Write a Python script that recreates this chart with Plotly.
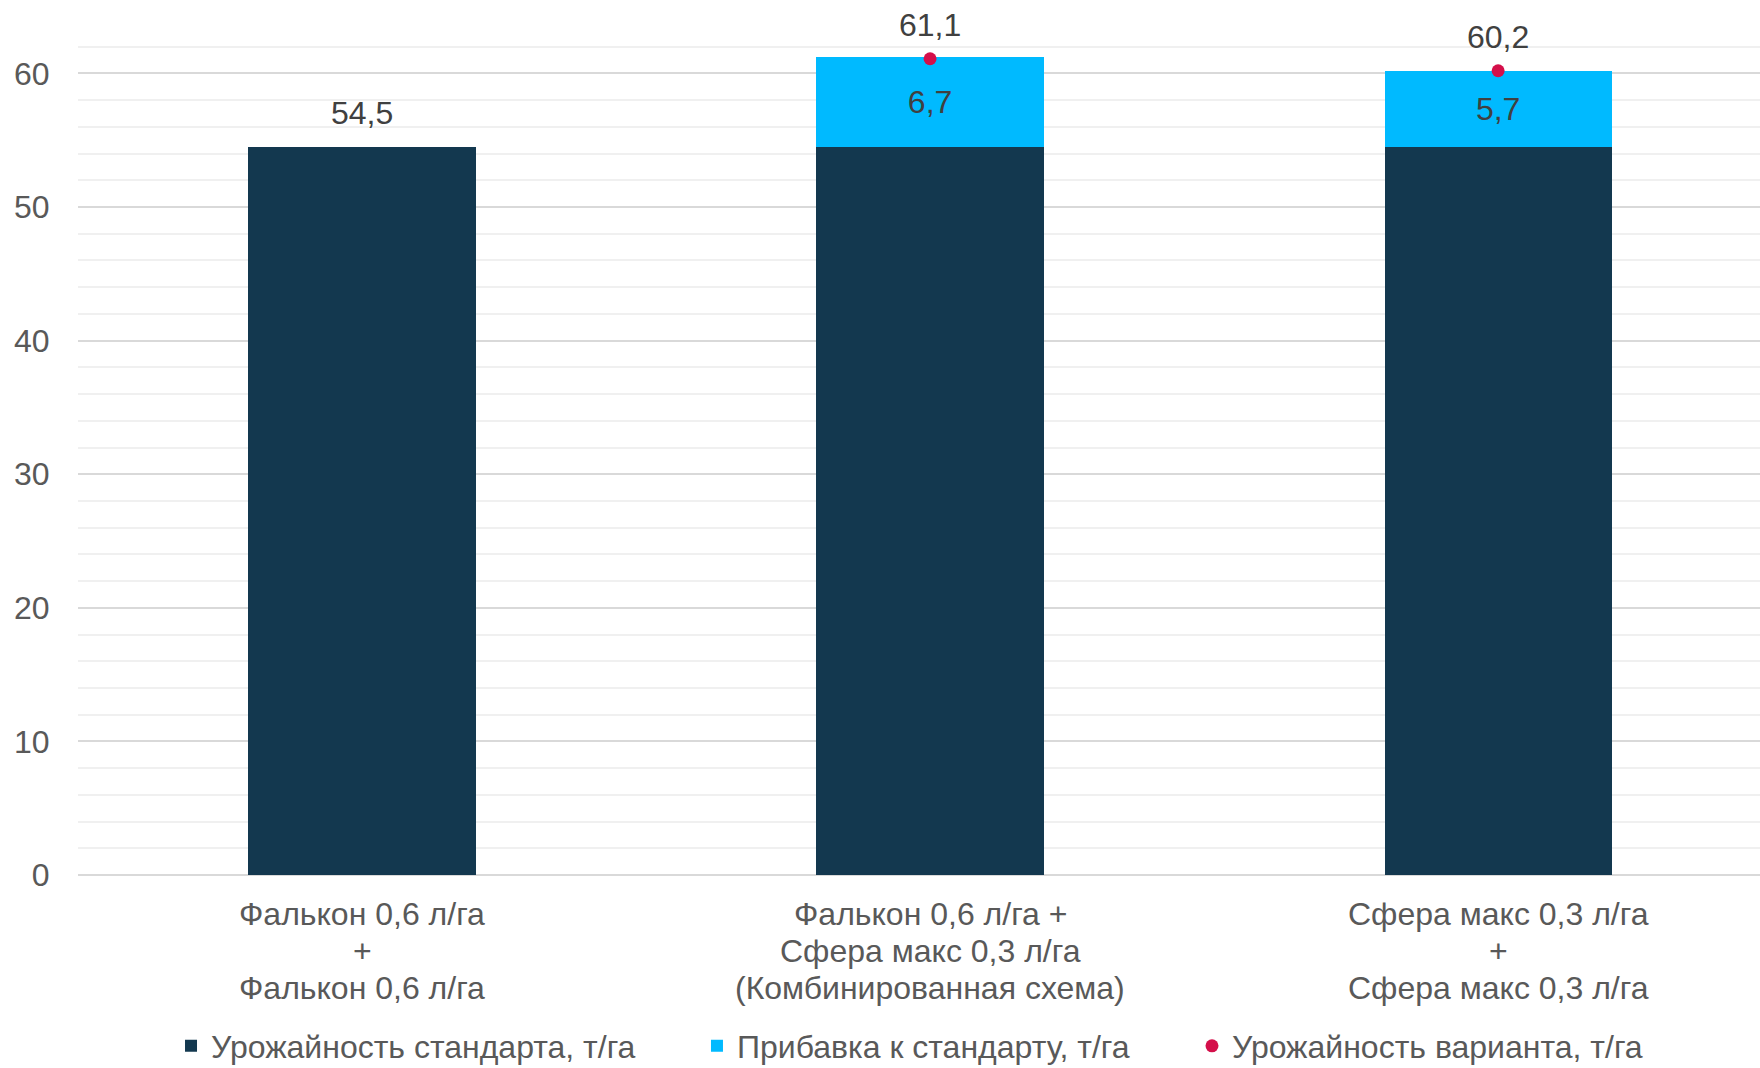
import plotly.graph_objects as go

categories = [
    "Фалькон 0,6 л/га<br>+<br>Фалькон 0,6 л/га",
    "Фалькон 0,6 л/га +<br>Сфера макс 0,3 л/га<br>(Комбинированная схема)",
    "Сфера макс 0,3 л/га<br>+<br>Сфера макс 0,3 л/га",
]
standard = [54.5, 54.5, 54.5]
addition = [0, 6.7, 5.7]
variant = [54.5, 61.1, 60.2]
standard_labels = ["54,5", "", ""]
addition_labels = ["", "6,7", "5,7"]
variant_labels = ["", "61,1", "60,2"]
variant_marker_visible = [False, True, True]

FONT = "Liberation Sans, Arial, sans-serif"
FS = 32
xpos = list(range(len(categories)))

fig = go.Figure()
fig.add_trace(go.Bar(
    x=xpos, y=standard, name="Урожайность стандарта, т/га", legend="legend",
    marker=dict(color="#13384F", line=dict(width=0)), width=0.4,
))
fig.add_trace(go.Bar(
    x=xpos, y=addition, name="Прибавка к стандарту, т/га", legend="legend2",
    marker=dict(color="#00BAFF", line=dict(width=0)), width=0.4,
    text=addition_labels, textposition="inside", insidetextanchor="middle",
    textfont=dict(family=FONT, size=FS, color="#404040"),
))
fig.add_trace(go.Scatter(
    x=xpos, y=variant, name="Урожайность варианта, т/га", mode="markers",
    marker=dict(size=13, color=["#D40F4A" if v else "rgba(0,0,0,0)" for v in variant_marker_visible]),
    showlegend=False,
))
fig.add_trace(go.Scatter(
    x=[None], y=[None], name="Урожайность варианта, т/га", mode="markers", legend="legend3",
    marker=dict(size=13, color="#D40F4A"),
))

# value labels above bars / markers
for i in xpos:
    lab = standard_labels[i] or variant_labels[i]
    yv = standard[i] if standard_labels[i] else variant[i]
    fig.add_annotation(x=i, y=yv, text=lab, showarrow=False, yshift=34,
                       font=dict(family=FONT, size=FS, color="#404040"))

# category labels (one annotation per line to match line spacing)
LINE_GAP = 37
for i, cat in enumerate(categories):
    for j, line in enumerate(cat.split("<br>")):
        fig.add_annotation(x=i, xref="x", y=0, yref="paper", text=line, showarrow=False,
                           yanchor="middle", yshift=-39 - LINE_GAP * j,
                           font=dict(family=FONT, size=FS, color="#595959"))

def leg(xp):
    return dict(orientation="h", x=xp, xanchor="left", y=-0.2, yanchor="middle",
                font=dict(family=FONT, size=FS, color="#595959"), itemwidth=30,
                bgcolor="rgba(0,0,0,0)")

fig.update_layout(
    width=1760, height=1068,
    margin=dict(l=78, r=0, t=20, b=193, autoexpand=False),
    barmode="stack",
    plot_bgcolor="white", paper_bgcolor="white",
    font=dict(family=FONT, size=FS, color="#595959"),
    showlegend=True,
    legend=leg(0.0553),
    legend2=leg(0.368),
    legend3=leg(0.6623),
    xaxis=dict(range=[-0.5, 2.461], tickmode="array", tickvals=xpos, ticktext=[""] * len(xpos),
               showticklabels=False, showgrid=False, zeroline=False, showline=False),
    yaxis=dict(range=[0, 64], dtick=10, tick0=0, showgrid=True, gridcolor="#D9D9D9", gridwidth=1.5,
               zeroline=True, zerolinecolor="#D9D9D9", zerolinewidth=1.5, showline=False,
               ticks="outside", ticklen=21, tickcolor="rgba(0,0,0,0)",
               tickfont=dict(family=FONT, size=FS, color="#595959"),
               minor=dict(dtick=2, showgrid=True, gridcolor="#F0F0F0", gridwidth=1.5)),
)

fig.write_html("out.html")
